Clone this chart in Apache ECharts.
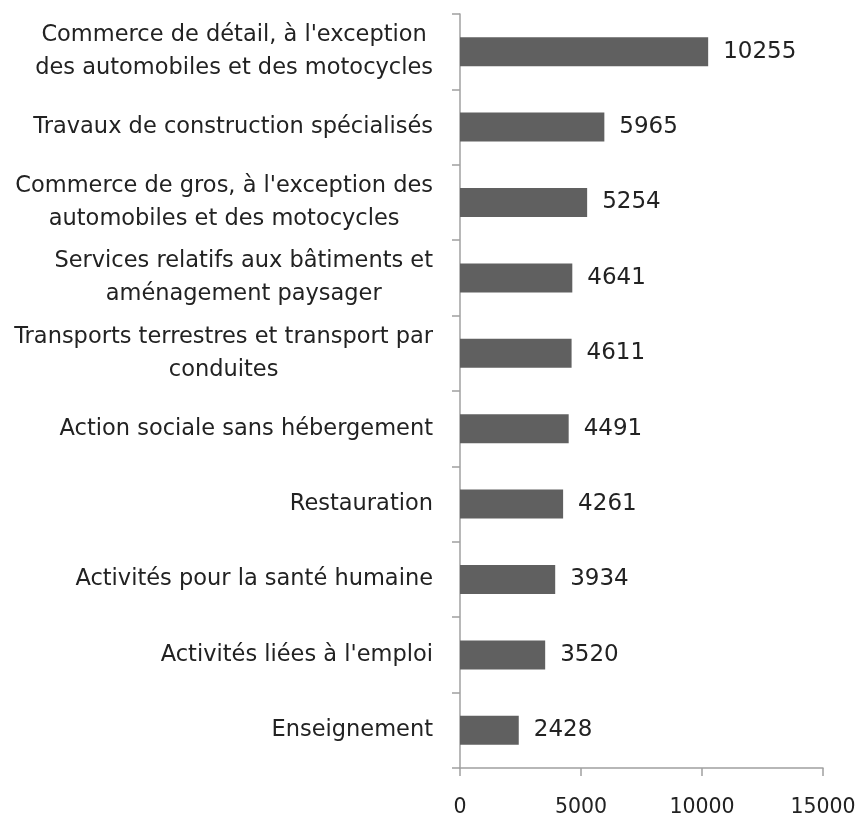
<!DOCTYPE html>
<html><head><meta charset="utf-8">
<script src="https://cdn.jsdelivr.net/npm/echarts@6/dist/echarts.min.js"></script>
<style>html,body{margin:0;padding:0;background:#fff;}#c{width:860px;height:814px;}</style>
</head><body><div id="c"></div>
<script>
const categories = [
  "Commerce de détail, à l'exception\ndes automobiles et des motocycles",
  "Travaux de construction spécialisés",
  "Commerce de gros, à l'exception des\nautomobiles et des motocycles",
  "Services relatifs aux bâtiments et\naménagement paysager",
  "Transports terrestres et transport par\nconduites",
  "Action sociale sans hébergement",
  "Restauration",
  "Activités pour la santé humaine",
  "Activités liées à l'emploi",
  "Enseignement"
];
const values = [10255, 5965, 5254, 4641, 4611, 4491, 4261, 3934, 3520, 2428];
const xTicks = [0, 5000, 10000, 15000];

const FONT = "DejaVu Sans";
const chart = echarts.init(document.getElementById('c'), null, {renderer: 'canvas'});
chart.setOption({
  animation: false,
  backgroundColor: '#ffffff',
  grid: {left: 460, right: 37, top: 14, bottom: 46, containLabel: false, outerBoundsMode: 'none'},
  xAxis: {
    type: 'value', min: xTicks[0], max: xTicks[xTicks.length - 1], interval: 5000,
    axisLine: {show: true, lineStyle: {color: '#a0a0a0', width: 1.5}},
    axisTick: {show: true, length: 8, lineStyle: {color: '#a0a0a0', width: 1.5}},
    splitLine: {show: false},
    axisLabel: {margin: 29, color: '#222', fontFamily: FONT, fontSize: 20.5, formatter: v => String(v)}
  },
  yAxis: {
    type: 'category', data: categories, inverse: true,
    axisLine: {show: true, lineStyle: {color: '#a0a0a0', width: 1.5}},
    axisTick: {show: true, length: 8, lineStyle: {color: '#a0a0a0', width: 1.5}},
    axisLabel: {
      margin: 27, color: '#222', fontFamily: FONT, fontSize: 22.5, lineHeight: 33, align: 'right',
      formatter: v => v.split('\n').map(l => '{c|' + l + '}').join('\n'),
      rich: {c: {align: 'center', fontFamily: FONT, fontSize: 22.5, lineHeight: 33, color: '#222'}}
    }
  },
  series: [{
    type: 'bar', data: values, barWidth: 29,
    itemStyle: {color: '#606060'},
    label: {show: true, position: 'right', distance: 15, color: '#222', fontFamily: FONT, fontSize: 23}
  }]
});
</script></body></html>
